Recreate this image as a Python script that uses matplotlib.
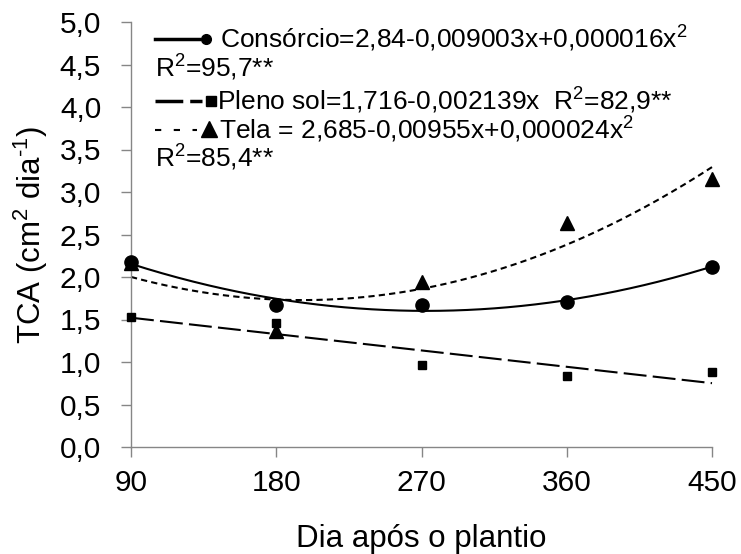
import numpy as np
import matplotlib
matplotlib.use("Agg")
import matplotlib.pyplot as plt
from matplotlib.lines import Line2D

plt.rcParams['font.family'] = ['Liberation Sans', 'DejaVu Sans']
plt.rcParams['mathtext.fontset'] = 'custom'
plt.rcParams['mathtext.rm'] = 'Liberation Sans'
plt.rcParams['mathtext.it'] = 'Liberation Sans:italic'
plt.rcParams['mathtext.bf'] = 'Liberation Sans:bold'

# Data
days = [90, 180, 270, 360, 450]
consorcio = [2.18, 1.67, 1.67, 1.71, 2.12]
pleno_sol = [1.535, 1.46, 0.965, 0.835, 0.885]
tela = [2.17, 1.37, 1.94, 2.64, 3.15]
fit_degree = [2, 1, 2]
y_ticks = [0.0, 0.5, 1.0, 1.5, 2.0, 2.5, 3.0, 3.5, 4.0, 4.5, 5.0]
y_tick_labels = ["0,0", "0,5", "1,0", "1,5", "2,0", "2,5", "3,0", "3,5", "4,0", "4,5", "5,0"]
legend_lines = [
    "Consórcio=2,84-0,009003x+0,000016x$^{2}$",
    "R$^{2}$=95,7**",
    "Pleno sol=1,716-0,002139x  R$^{2}$=82,9**",
    "Tela = 2,685-0,00955x+0,000024x$^{2}$",
    "R$^{2}$=85,4**",
]

W, H = 741, 554
fig = plt.figure(figsize=(W / 100, H / 100), dpi=100)
ax = fig.add_axes([131 / W, 1 - 447 / H, (712 - 131) / W, (447 - 22) / H])

gray = '#868686'
x = np.array(days, dtype=float)
xs = np.linspace(90, 450, 300)

series = [consorcio, pleno_sol, tela]
styles = [
    dict(ls='-', marker='o', ms=9.5, dashes=None),
    dict(ls='--', marker='s', ms=5.5, dashes=(11, 3)),
    dict(ls='--', marker='^', ms=9.5, dashes=(3, 2)),
]
for vals, deg, st in zip(series, fit_degree, styles):
    coef = np.polyfit(x, np.array(vals), deg)
    line, = ax.plot(xs, np.polyval(coef, xs), color='black', lw=1.5,
                    ls=st['ls'], clip_on=False)
    if st['dashes'] is not None:
        line.set_dashes(st['dashes'])
    ax.plot(x, vals, ls='none', marker=st['marker'], ms=st['ms'],
            color='black', clip_on=False, zorder=3)

ax.set_xlim(90, 450)
ax.set_ylim(0, 5)
ax.set_xticks(days)
ax.set_xticklabels([str(d) for d in days])
ax.set_yticks(y_ticks)
ax.set_yticklabels(y_tick_labels)
for s in ['top', 'right']:
    ax.spines[s].set_visible(False)
for s in ['left', 'bottom']:
    ax.spines[s].set_color(gray)
    ax.spines[s].set_linewidth(1.0)
ax.tick_params(axis='both', colors=gray, labelcolor='black', labelsize=21.5,
               length=7, width=1.0, direction='out')
ax.tick_params(axis='y', pad=14.5)
ax.tick_params(axis='x', pad=9)
ax.set_xlabel('Dia após o plantio', fontsize=22.5, labelpad=19)
ax.set_ylabel('TCA (cm$^{2}$ dia$^{‐1}$)', fontsize=22.5, labelpad=7)

# Custom legend (figure pixel coordinates)
def fx(px):
    return px / W

def fy(py):
    return 1 - py / H

fs = 19
# line 1
fig.add_artist(Line2D([fx(155), fx(199)], [fy(39), fy(39)], color='black', lw=2.5))
fig.add_artist(Line2D([fx(206)], [fy(39)], marker='o', ms=7, color='black'))
fig.text(fx(220), fy(39), legend_lines[0], fontsize=fs, va='center', ha='left')
fig.text(fx(155), fy(68), legend_lines[1], fontsize=fs, va='center', ha='left')
# line 3
fig.add_artist(Line2D([fx(155), fx(202)], [fy(101), fy(101)], color='black', lw=2.5,
                      ls='--', dashes=(8, 2)))
fig.add_artist(Line2D([fx(211)], [fy(101)], marker='s', ms=7.5, color='black'))
fig.text(fx(217), fy(101), legend_lines[2], fontsize=fs, va='center', ha='left')
# line 4
fig.add_artist(Line2D([fx(155), fx(197)], [fy(130), fy(130)], color='black', lw=1.5,
                      ls='--', dashes=(3, 6)))
fig.add_artist(Line2D([fx(209)], [fy(129)], marker='^', ms=12, color='black'))
fig.text(fx(219), fy(130), legend_lines[3], fontsize=fs, va='center', ha='left')
fig.text(fx(155), fy(158), legend_lines[4], fontsize=fs, va='center', ha='left')

fig.savefig('out.png', dpi=100)
